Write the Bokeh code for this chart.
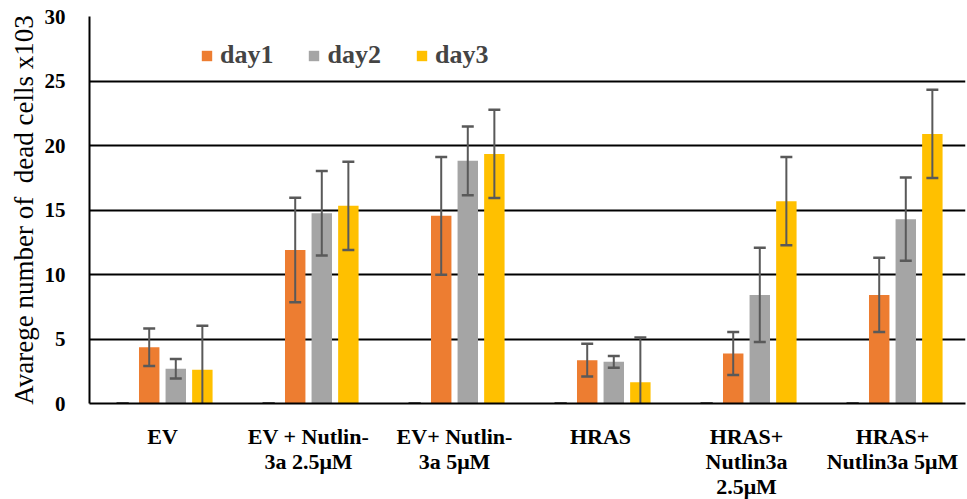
from bokeh.plotting import figure
from bokeh.models import ColumnDataSource, FactorRange, Legend, LegendItem, Range1d
from bokeh.transform import dodge
from bokeh.embed import file_html
from bokeh.resources import INLINE

categories = ["EV", "EV + Nutlin-\n3a 2.5μM", "EV+ Nutlin-\n3a 5μM", "HRAS",
              "HRAS+\nNutlin3a\n2.5μM", "HRAS+\nNutlin3a 5μM"]
day0 = [0, 0, 0, 0, 0, 0]
day0_err = [0, 0, 0, 0, 0, 0]
day1 = [4.36, 11.89, 14.55, 3.36, 3.88, 8.42]
day1_err = [1.46, 4.05, 4.56, 1.27, 1.67, 2.88]
day2 = [2.69, 14.75, 18.81, 3.23, 8.42, 14.29]
day2_err = [0.75, 3.27, 2.67, 0.45, 3.65, 3.23]
day3 = [2.61, 15.32, 19.35, 1.65, 15.68, 20.90]
day3_err = [3.42, 3.42, 3.42, 3.47, 3.42, 3.42]
y_ticks = [0, 5, 10, 15, 20, 25, 30]

FONT = "Liberation Serif"
colors = {"day1": "#ED7D31", "day2": "#A5A5A5", "day3": "#FFC000"}
offsets = [-0.273, -0.091, 0.091, 0.273]
CAP = 0.041
ERR_COLOR = "#595959"

p = figure(frame_width=876, frame_height=387, x_range=FactorRange(*categories, range_padding=0),
           y_range=Range1d(0, 30), output_backend="svg", toolbar_location=None,
           min_border_left=89, min_border_right=2, min_border_top=16, min_border_bottom=96)

series = [("day0", day0, day0_err), ("day1", day1, day1_err),
          ("day2", day2, day2_err), ("day3", day3, day3_err)]
renderers = {}
for (name, vals, errs), off in zip(series, offsets):
    src = ColumnDataSource(dict(cat=categories, val=vals,
                                upper=[v + e for v, e in zip(vals, errs)],
                                lower=[v - e for v, e in zip(vals, errs)]))
    if name != "day0":
        r = p.vbar(x=dodge("cat", off, range=p.x_range), top="val", width=0.14,
                   source=src, fill_color=colors[name], line_color=None)
        renderers[name] = r
    xc = dodge("cat", off, range=p.x_range)
    xl = dodge("cat", off - CAP, range=p.x_range)
    xr = dodge("cat", off + CAP, range=p.x_range)
    p.segment(x0=xc, x1=xc, y0="lower", y1="upper", source=src,
              line_color=ERR_COLOR, line_width=2)
    p.segment(x0=xl, x1=xr, y0="upper", y1="upper", source=src,
              line_color=ERR_COLOR, line_width=2.5)
    p.segment(x0=xl, x1=xr, y0="lower", y1="lower", source=src,
              line_color=ERR_COLOR, line_width=2.5)

legend = Legend(items=[LegendItem(label=n, renderers=[renderers[n]]) for n in ["day1", "day2", "day3"]],
                orientation="horizontal", location=(111, 333), padding=0, margin=0,
                glyph_width=13, glyph_height=13, label_standoff=7, spacing=34,
                label_text_font=FONT, label_text_font_style="bold", label_text_font_size="26px",
                border_line_color=None, background_fill_alpha=0)
p.add_layout(legend, "center")

p.xgrid.grid_line_color = None
p.ygrid.grid_line_color = "black"
p.ygrid.grid_line_width = 2
p.yaxis.ticker = y_ticks
p.outline_line_color = None

p.yaxis.axis_line_color = "black"
p.yaxis.axis_line_width = 2
p.yaxis.major_tick_line_color = None
p.yaxis.minor_tick_line_color = None
p.yaxis.major_label_standoff = 18
p.yaxis.major_label_text_font = FONT
p.yaxis.major_label_text_font_style = "bold"
p.yaxis.major_label_text_font_size = "21px"
p.yaxis.major_label_text_color = "black"
p.yaxis.axis_label = "Avarege number of\u00a0 dead cells x103"
p.yaxis.axis_label_text_font = FONT
p.yaxis.axis_label_text_font_style = "normal"
p.yaxis.axis_label_text_font_size = "27px"
p.yaxis.axis_label_text_color = "black"
p.yaxis.axis_label_standoff = 3

p.xaxis.axis_line_color = "black"
p.xaxis.axis_line_width = 2
p.xaxis.major_tick_line_color = None
p.xaxis.minor_tick_line_color = None
p.xaxis.major_label_standoff = 14
p.xaxis.major_label_text_font = FONT
p.xaxis.major_label_text_font_style = "bold"
p.xaxis.major_label_text_font_size = "22px"
p.xaxis.major_label_text_line_height = 1.0
p.xaxis.major_label_text_color = "black"
p.xaxis.major_label_orientation = "horizontal"

open("out.html", "w").write(file_html(p, INLINE))
